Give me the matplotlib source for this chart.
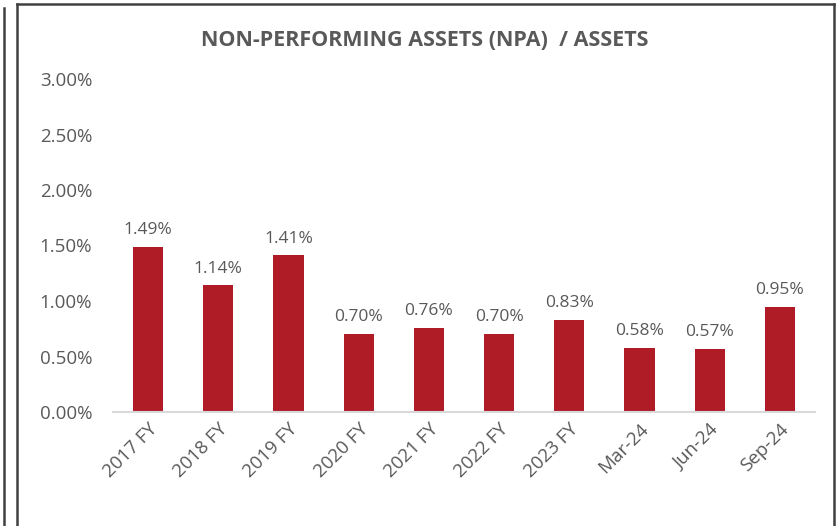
import matplotlib
matplotlib.use("Agg")
from matplotlib import pyplot as plt
from matplotlib.lines import Line2D
from matplotlib.ticker import FuncFormatter

categories = ["2017 FY", "2018 FY", "2019 FY", "2020 FY", "2021 FY",
              "2022 FY", "2023 FY", "Mar-24", "Jun-24", "Sep-24"]
npa_ratio = [1.49, 1.14, 1.41, 0.70, 0.76, 0.70, 0.83, 0.58, 0.57, 0.95]
y_ticks = [0.0, 0.5, 1.0, 1.5, 2.0, 2.5, 3.0]

W, H = 836, 526
plt.rcParams["font.family"] = ["Open Sans", "DejaVu Sans"]
text_color = "#595959"
bar_color = "#B01C26"

fig = plt.figure(figsize=(W / 100, H / 100), dpi=100)
ax = fig.add_axes([113 / W, (H - 412) / H, 702 / W, 333 / H])

x = list(range(len(categories)))
bars = ax.bar(x, npa_ratio, width=0.43, color=bar_color, zorder=2)
for xi, v in zip(x, npa_ratio):
    ax.text(xi, v + 0.08, f"{v:.2f}%", ha="center", va="bottom",
            fontsize=12.5, color=text_color)

ax.set_xlim(-0.5, len(categories) - 0.5)
ax.set_ylim(0, 3.0)
ax.set_yticks(y_ticks)
ax.yaxis.set_major_formatter(FuncFormatter(lambda v, p: f"{v:.2f}%"))
ax.set_xticks(x)
ax.set_xticklabels(categories, rotation=45, ha="right", rotation_mode="anchor")
ax.tick_params(axis="both", length=0, labelsize=13.5, labelcolor=text_color)
ax.tick_params(axis="y", pad=15)
ax.tick_params(axis="x", pad=6)
for side in ["top", "right", "left"]:
    ax.spines[side].set_visible(False)
ax.spines["bottom"].set_color("#D9D9D9")
ax.spines["bottom"].set_linewidth(1.5)

fig.text(425 / W, 1 - 40 / H, "NON-PERFORMING ASSETS (NPA)  / ASSETS",
         ha="center", va="center", fontsize=15.5, fontweight="bold",
         color=text_color)

# frame lines around the panel
border = "#404040"
def fx(px):
    return px / W
def fy(py):
    return 1 - py / H
fig.add_artist(Line2D([fx(17), fx(17)], [fy(4), 0], color=border, lw=1.8))
fig.add_artist(Line2D([fx(17), fx(834)], [fy(4), fy(4)], color=border, lw=1.8))
fig.add_artist(Line2D([fx(834), fx(834)], [fy(4), 0], color=border, lw=1.8))
fig.add_artist(Line2D([fx(3.5), fx(3.5)], [fy(8), 0], color=border, lw=1.8))

fig.savefig("out.png", dpi=100)
